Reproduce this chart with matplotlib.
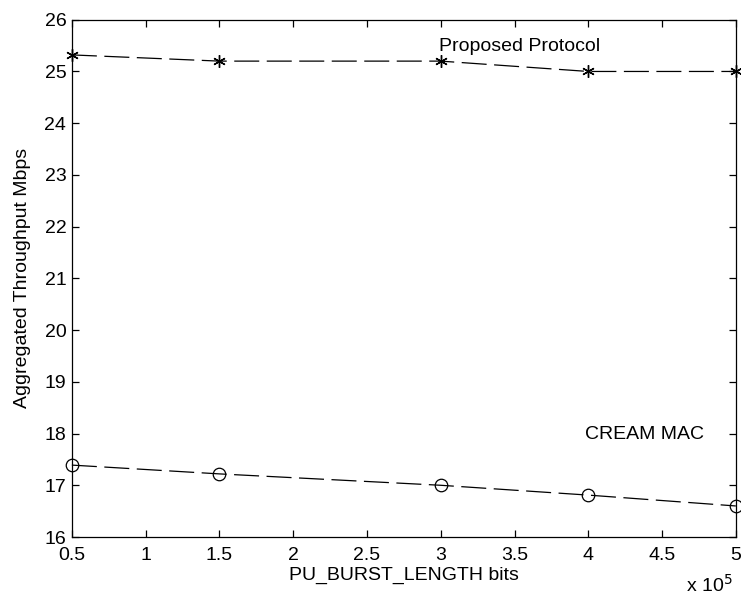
import matplotlib
matplotlib.use("Agg")
import matplotlib.pyplot as plt

plt.rcParams['font.family'] = ['Liberation Sans', 'DejaVu Sans']

burst_length = [0.5, 1.5, 3, 4, 5]
proposed = [25.32, 25.2, 25.2, 25.0, 25.0]
cream_mac = [17.39, 17.22, 17.0, 16.81, 16.6]

fig = plt.figure(figsize=(7.41, 5.98), dpi=100)
ax = fig.add_axes([0.097, 0.102, 0.896, 0.865])

ax.plot(burst_length, proposed, color='black', lw=0.9, dashes=(20, 6),
        marker=(6, 2, 0), markersize=9, markeredgewidth=1.0, clip_on=False)
ax.plot(burst_length, cream_mac, color='black', lw=0.9, dashes=(20, 6),
        marker='o', markersize=9, markerfacecolor='none', markeredgewidth=0.9, clip_on=False)

ax.text(2.99, 25.48, 'Proposed Protocol', fontsize=14, va='center', ha='left')
ax.text(3.98, 17.99, 'CREAM MAC', fontsize=14, va='center', ha='left')

ax.set_xlim(0.5, 5)
ax.set_ylim(16, 26)
ax.set_xticks([0.5, 1, 1.5, 2, 2.5, 3, 3.5, 4, 4.5, 5])
ax.set_xticklabels(['0.5', '1', '1.5', '2', '2.5', '3', '3.5', '4', '4.5', '5'])
ax.set_yticks(range(16, 27))
ax.tick_params(direction='in', top=True, right=True, labelsize=14, length=5, width=0.9)
ax.tick_params(axis='x', pad=7)
ax.tick_params(axis='y', pad=4)
for s in ax.spines.values():
    s.set_linewidth(0.9)

ax.set_xlabel('PU_BURST_LENGTH bits', fontsize=14, labelpad=2)
ax.set_ylabel('Aggregated Throughput Mbps', fontsize=14, labelpad=10)
ax.text(0.995, -0.093, r'x 10$^5$', transform=ax.transAxes, fontsize=14,
        ha='right', va='center')

fig.savefig('out.png', dpi=100)
